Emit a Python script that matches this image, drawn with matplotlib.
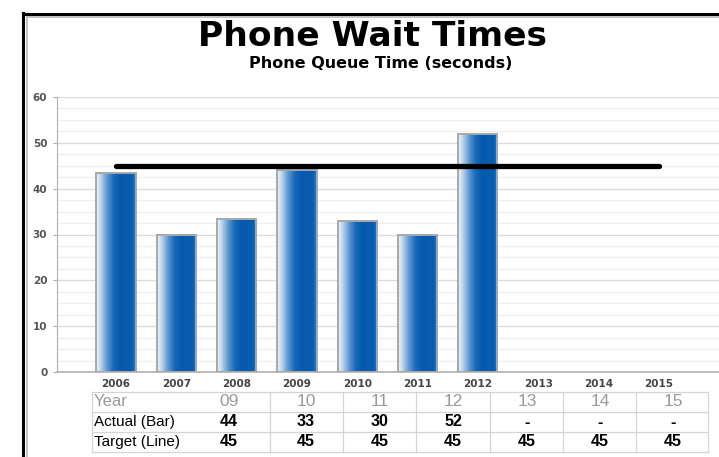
import numpy as np
import matplotlib
matplotlib.use("Agg")
import matplotlib.pyplot as plt
from matplotlib.lines import Line2D
from matplotlib.colors import LinearSegmentedColormap

# ---- data ----
years = ["2006", "2007", "2008", "2009", "2010", "2011", "2012", "2013", "2014", "2015"]
actual = [43.5, 30, 33.3, 44, 33, 30, 52]          # seconds, 2006-2012
target = [45] * 10                                  # seconds, 2006-2015

table_years = ["09", "10", "11", "12", "13", "14", "15"]
table_actual = ["44", "33", "30", "52", "-", "-", "-"]
table_target = ["45", "45", "45", "45", "45", "45", "45"]

W, H = 719, 457
fig = plt.figure(figsize=(W / 100, H / 100), dpi=100)
fig.patch.set_facecolor("white")

def fx(px):
    return px / W

def fy(py):
    return 1 - py / H

# outer frame (black line with a grey inner rule)
fig.add_artist(Line2D([fx(23), fx(23)], [fy(13), 0], color="black", lw=2.2))
fig.add_artist(Line2D([fx(23), 1], [fy(14), fy(14)], color="black", lw=2.2))
fig.add_artist(Line2D([fx(26.5), fx(26.5)], [fy(17), 0], color="#b8b8b8", lw=1.2))
fig.add_artist(Line2D([fx(26.5), 1], [fy(17), fy(17)], color="#b8b8b8", lw=1.2))

# titles
fig.text(fx(373), fy(37), "Phone Wait Times", ha="center", va="center",
         fontsize=24.8, fontweight="bold", family="DejaVu Sans", color="black")
fig.text(fx(381), fy(63), "Phone Queue Time (seconds)", ha="center", va="center",
         fontsize=11.5, fontweight="bold", family="DejaVu Sans", color="black")

# ---- chart area ----
ax = fig.add_axes([fx(57), fy(372), 1 - fx(57), (372 - 97) / H])
ax.set_facecolor("white")

ax.set_yticks(np.arange(0, 61, 10))
ax.set_yticks(np.arange(0, 61, 2.5), minor=True)
ax.grid(which="major", axis="y", color="#dcdcdc", lw=1.0)
ax.grid(which="minor", axis="y", color="#efefef", lw=0.9)
ax.set_axisbelow(True)

for s in ["top", "right"]:
    ax.spines[s].set_visible(False)
ax.spines["left"].set_color("#b0b0b0")
ax.spines["bottom"].set_color("#b0b0b0")
ax.spines["bottom"].set_linewidth(1.2)

ax.tick_params(axis="y", which="major", length=3, color="#b0b0b0", pad=4,
               labelsize=7.5, labelcolor="#555555")
ax.tick_params(axis="y", which="minor", length=0)
for lab in ax.get_yticklabels():
    lab.set_fontweight("bold")

x = np.arange(len(years))
ax.set_xticks(x)
ax.set_xticklabels(years, fontsize=7.5, fontweight="bold", color="#444444")
ax.tick_params(axis="x", length=0, pad=5)

# bars with a left-to-right gloss gradient
cmap = LinearSegmentedColormap.from_list("barblue", [
    (0.00, "#f2f7fd"), (0.12, "#b8d4ef"), (0.28, "#5a97d4"),
    (0.44, "#1a69ba"), (0.60, "#065aad"), (0.90, "#0a5cae"), (1.00, "#3a7fc2")])
grad = np.linspace(0, 1, 256).reshape(1, -1)

bars = ax.bar(x[:len(actual)], actual, width=0.65, facecolor="none",
              edgecolor="#a8a8a8", lw=1.4, zorder=3)
for b in bars:
    x0, w, h = b.get_x(), b.get_width(), b.get_height()
    im = ax.imshow(grad, cmap=cmap, aspect="auto", extent=(x0, x0 + w, 0, h),
                   zorder=2, interpolation="bicubic")
    im.set_clip_path(b)

# target line
ax.plot(x, target, color="black", lw=3.8, solid_capstyle="round", zorder=4)

ax.set_xlim(-0.98, 10.0)
ax.set_ylim(0, 60)

# ---- data table ----
left, right = 92, 708
col_edges = [270, 343, 416, 490, 563, 636]
row_edges = [392, 412, 432, 452]
col_centers = [229, 306, 380, 453, 527, 600, 673]
grid_c = "#d4d4d4"
for yy in row_edges:
    fig.add_artist(Line2D([fx(left), fx(right)], [fy(yy), fy(yy)], color=grid_c, lw=0.9))
for xx in [left] + col_edges + [right]:
    fig.add_artist(Line2D([fx(xx), fx(xx)], [fy(row_edges[0]), fy(row_edges[-1])],
                          color=grid_c, lw=0.9))

rows = [("Year", table_years, "#9a9a9a", "normal", 12.5, 12),
        ("Actual (Bar)", table_actual, "black", "bold", 11.5, 11),
        ("Target (Line)", table_target, "black", "bold", 11.5, 11)]
for i, (label, vals, color, vw, vs, ls) in enumerate(rows):
    yc = (row_edges[i] + row_edges[i + 1]) / 2
    fig.text(fx(94), fy(yc), label, ha="left", va="center", fontsize=ls,
             color=color, family="Liberation Sans")
    for cx, v in zip(col_centers, vals):
        fig.text(fx(cx), fy(yc), v, ha="center", va="center", fontsize=vs,
                 fontweight=vw, color=color, family="Liberation Sans")

fig.savefig("out.png", dpi=100, facecolor="white")
